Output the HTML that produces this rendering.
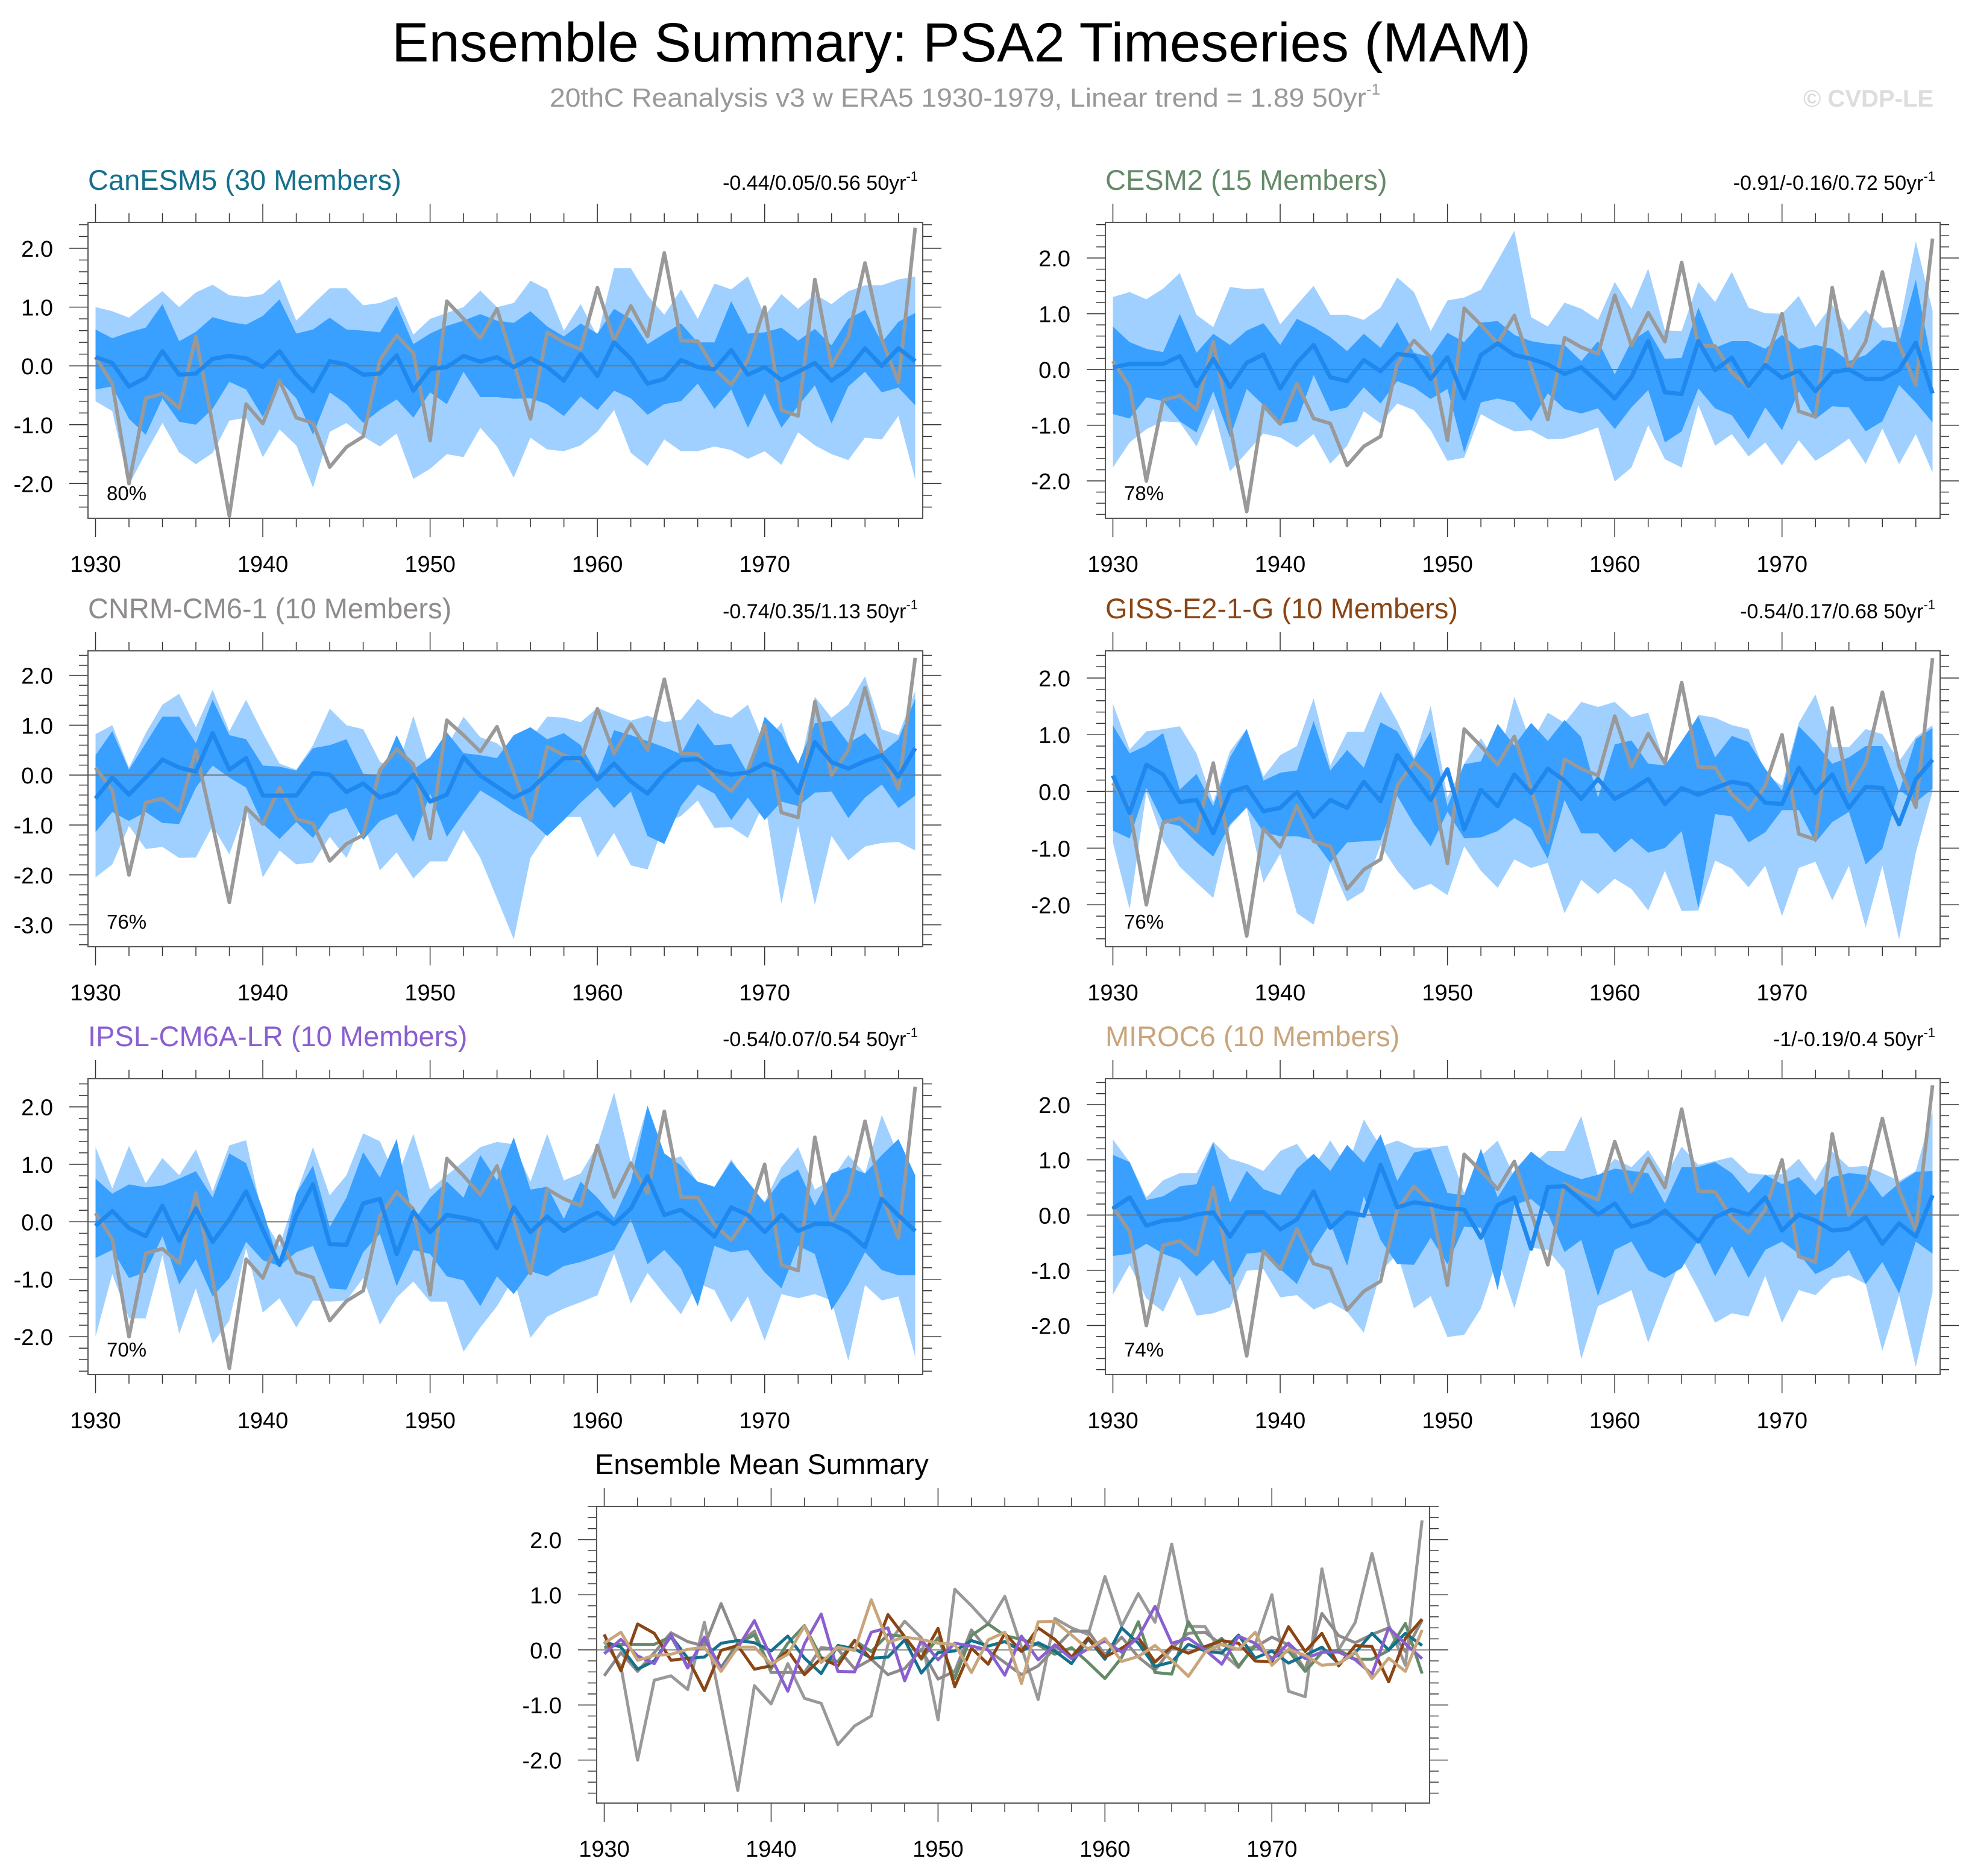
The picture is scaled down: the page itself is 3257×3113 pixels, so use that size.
<!DOCTYPE html>
<html><head><meta charset="utf-8"><title>Ensemble Summary: PSA2 Timeseries (MAM)</title>
<style>html,body{margin:0;padding:0;background:#fff}svg{display:block}text{font-family:"Liberation Sans",Arial,sans-serif}</style>
</head><body>
<svg id="chart" xmlns="http://www.w3.org/2000/svg" width="3257" height="3113" viewBox="0 0 3257 3113">
<rect x="0" y="0" width="3257" height="3113" fill="#fff"/>
<text x="650" y="102" font-size="92" textLength="1890" lengthAdjust="spacingAndGlyphs" fill="#000">Ensemble Summary: PSA2 Timeseries (MAM)</text>
<text x="912" y="177" font-size="44" fill="#999"><tspan textLength="1355" lengthAdjust="spacingAndGlyphs">20thC Reanalysis v3 w ERA5 1930-1979, Linear trend = 1.89 50yr</tspan><tspan font-size="26" dy="-20">-1</tspan></text>
<text x="3208" y="177" font-size="40" font-weight="bold" fill="#ddd" text-anchor="end">© CVDP-LE</text>
<g id="plots"></g>
</svg>
<script>
const years = [];
for (let y = 1930; y <= 1979; y++) years.push(y);
const obsValues = [0.15,-0.3,-2.0,-0.55,-0.47,-0.72,0.5,-1.0,-2.55,-0.65,-0.98,-0.25,-0.88,-0.97,-1.72,-1.38,-1.2,0.1,0.52,0.22,-1.27,1.1,0.8,0.47,0.97,0.05,-0.9,0.57,0.4,0.28,1.33,0.43,1.02,0.5,1.92,0.43,0.42,-0.05,-0.32,0.1,1.0,-0.75,-0.85,1.47,0.0,0.5,1.75,0.45,-0.28,2.35];

const canMean = [0.15,0.05,-0.35,-0.2,0.25,-0.15,-0.13,0.12,0.17,0.13,-0.02,0.25,-0.15,-0.43,0.08,0.02,-0.15,-0.13,0.18,-0.42,-0.05,-0.02,0.17,0.07,0.15,-0.02,0.13,-0.02,-0.25,0.2,-0.17,0.4,0.12,-0.3,-0.22,0.1,-0.02,-0.06,0.27,-0.15,-0.02,-0.24,-0.1,0.05,-0.25,-0.05,0.3,0,0.3,0.08];
const canOuterHi = [1.0,0.93,0.82,1.05,1.27,1.0,1.25,1.38,1.2,1.17,1.22,1.47,0.77,1.05,1.32,1.32,1.03,1.07,1.18,0.53,0.8,0.9,1.0,1.28,1.0,1.07,1.45,1.3,0.6,1.05,0.5,1.66,1.66,1.2,0.87,1.3,0.8,1.4,1.3,1.52,0.85,1.22,0.97,1.22,1.05,1.27,1.37,1.37,1.47,1.52];
const canInnerHi = [0.62,0.47,0.57,0.65,1.05,0.42,0.58,0.83,0.75,0.7,0.85,1.13,0.55,0.62,0.82,0.62,0.6,0.57,1.03,0.37,0.55,0.68,0.77,0.88,0.77,0.73,0.93,0.67,0.5,0.72,0.55,0.97,0.8,0.37,0.55,0.72,0.4,0.4,1.1,0.55,0.57,0.65,0.43,0.63,0.35,0.8,0.95,0.4,0.75,0.9];
const canInnerLo = [-0.4,-0.35,-0.9,-1.17,-0.55,-0.95,-1.0,-0.73,-0.27,-0.4,-0.87,-0.25,-0.55,-1.17,-0.45,-0.65,-0.97,-0.75,-0.57,-0.88,-0.45,-0.65,-0.1,-0.53,-0.53,-0.56,-0.55,-0.65,-0.85,-0.52,-0.75,-0.42,-0.55,-0.83,-0.65,-0.6,-0.3,-0.73,-0.4,-1.05,-0.47,-1.05,-0.68,-0.33,-0.98,-0.35,-0.1,-0.45,-0.37,-0.67];
const canOuterLo = [-0.6,-0.77,-2.02,-1.48,-0.97,-1.47,-1.67,-1.48,-0.93,-0.88,-1.55,-1.08,-1.35,-2.07,-1.12,-0.97,-1.2,-1.37,-1.15,-1.92,-1.75,-1.5,-1.55,-1.05,-1.37,-1.9,-1.22,-1.42,-1.45,-1.35,-1.12,-0.75,-1.48,-1.7,-1.25,-1.45,-1.45,-1.37,-1.43,-1.58,-1.45,-1.68,-1.13,-1.35,-1.5,-1.6,-1.22,-1.25,-0.85,-1.93];

const cesmMean = [0.04,0.1,0.1,0.1,0.24,-0.3,0.19,-0.32,0.12,0.27,-0.34,0.12,0.44,-0.14,-0.21,0.17,-0.03,0.28,0.24,-0.17,0.22,-0.52,0.26,0.47,0.26,0.19,0.09,-0.08,0.04,-0.23,-0.52,-0.14,0.51,-0.41,-0.44,0.51,-0.01,0.21,-0.3,0.08,-0.15,-0.02,-0.39,-0.05,0,-0.17,-0.17,-0.01,0.48,-0.43];
const cesmOuterHi = [1.3,1.39,1.26,1.45,1.73,0.98,0.76,1.48,1.44,1.46,0.81,1.16,1.5,0.98,0.98,0.89,1.11,1.65,1.39,0.69,1.24,1.29,1.43,1.95,2.49,0.94,0.77,1.2,1.09,0.89,1.57,1.09,1.81,0.7,0.69,1.57,1.21,1.75,1.11,1.01,1.0,1.32,0.76,1.16,0.7,1.07,0.75,0.76,2.3,1.05];
const cesmInnerHi = [0.77,0.49,0.37,0.31,1.0,0.3,0.64,0.44,0.7,0.83,0.44,0.91,0.76,0.58,0.33,0.64,0.39,0.85,0.3,0.22,0.66,0.49,0.84,0.87,0.62,0.51,0.46,0.44,0.15,0.51,-0.09,0.51,0.71,0.19,0.21,1.11,0.39,0.51,0.51,0.37,0.62,0.37,0.44,0.37,0.15,0.26,0.53,0.48,1.61,0.04];
const cesmInnerLo = [-0.8,-0.88,-0.5,-0.57,-0.93,-1.13,-0.39,-1.22,-0.35,-0.64,-0.98,-0.93,-0.1,-0.75,-0.68,-0.32,-0.61,-0.21,-0.32,-0.53,-0.35,-1.49,-0.59,-0.52,-0.59,-0.93,-0.43,-0.71,-0.79,-0.7,-1.07,-0.68,-0.37,-1.31,-1.11,-0.34,-0.7,-0.82,-1.25,-0.68,-1.09,-0.39,-0.89,-0.66,-0.68,-1.11,-0.93,-0.28,-0.59,-0.95];
const cesmOuterLo = [-1.76,-1.31,-1.07,-0.93,-0.95,-1.38,-0.7,-1.83,-1.49,-1.15,-1.22,-1.4,-1.16,-1.69,-1.37,-0.75,-0.97,-0.61,-0.73,-1.09,-1.64,-1.58,-0.8,-0.97,-1.11,-1.09,-1.25,-1.24,-1.15,-1.04,-2.01,-1.76,-1.0,-1.61,-1.76,-0.64,-1.37,-1.16,-1.56,-1.31,-1.72,-1.27,-1.64,-1.45,-1.24,-1.69,-1.06,-1.7,-1.16,-1.85];

const cnrmMean = [-0.47,-0.05,-0.39,-0.05,0.31,0.15,0.07,0.84,0.11,0.34,-0.41,-0.41,-0.41,0.04,0.01,-0.34,-0.17,-0.45,-0.34,0.01,-0.53,-0.39,0.36,-0.01,-0.23,-0.45,-0.29,0.03,0.34,0.34,-0.09,0.23,-0.13,-0.37,0.03,0.3,0.32,0.09,0.01,0.05,0.23,0.09,-0.36,0.66,0.26,0.13,0.28,0.4,-0.03,0.54];
const cnrmOuterHi = [0.82,1.0,0.15,0.84,1.41,1.63,0.96,1.71,0.88,1.51,0.84,0.23,0.11,0.6,1.33,1.0,0.92,0.27,0.07,1.19,0.11,0.56,1.17,0.76,0.64,0.36,0.72,1.17,1.15,1.06,1.35,1.21,1.09,1.19,1.06,1.11,1.53,1.25,1.15,1.41,0.6,1.05,0.02,1.57,1.15,1.41,1.98,0.92,0.8,1.69];
const cnrmInnerHi = [0.4,0.88,0.11,0.64,1.17,1.17,0.64,1.51,0.8,0.72,0.19,0.17,0.09,0.54,0.6,0.72,0.03,-0.01,0.8,0.11,0.36,0.86,0.44,0.4,0.34,0.8,0.96,0.72,0.84,0.6,0.01,0.9,0.8,0.68,0.56,0.42,1.04,0.6,0.62,0.03,1.17,0.84,0.23,1.04,1.09,0.64,0.84,0.44,0.72,1.53];
const cnrmInnerLo = [-1.14,-0.74,-0.92,-0.74,-0.96,-0.98,-0.25,0.19,-0.05,-0.25,-0.98,-1.28,-0.94,-1.26,-0.78,-0.66,-1.3,-0.92,-0.78,-1.34,-0.37,-1.24,-0.76,-0.31,-0.51,-0.74,-0.92,-1.22,-0.9,-0.55,-0.25,-0.66,-0.33,-1.22,-1.38,-0.62,-0.19,-0.37,-0.9,-0.45,-0.9,-0.53,-0.62,-0.35,-0.33,-0.86,-0.45,-0.19,-0.66,-0.41];
const cnrmOuterLo = [-2.05,-1.79,-1.02,-1.48,-1.44,-1.66,-1.65,-1.02,-1.59,-0.66,-2.05,-1.51,-1.79,-1.75,-1.24,-1.66,-0.94,-1.91,-1.55,-2.07,-1.73,-1.73,-1.1,-1.66,-2.47,-3.29,-1.66,-1.16,-0.84,-0.84,-1.65,-1.16,-1.81,-1.89,-0.96,-0.82,-0.51,-1.06,-1.04,-1.26,-0.53,-2.58,-1.02,-2.6,-1.22,-1.71,-1.43,-1.36,-1.34,-1.51];

const gissMean = [0.28,-0.38,0.47,0.3,-0.19,-0.15,-0.74,-0.01,0.08,-0.35,-0.29,-0.01,-0.45,-0.15,-0.29,0.17,-0.17,0.64,0.24,-0.15,0.39,-0.67,0.03,-0.26,0.3,-0.03,0.4,0.19,-0.13,0.22,-0.13,0.03,0.22,-0.22,0.06,-0.06,0.06,0.17,0.12,-0.2,-0.22,0.42,-0.03,0.3,-0.29,0.08,0.06,-0.58,0.21,0.56];
const gissOuterHi = [1.55,0.74,1.06,1.1,1.15,0.67,-0.19,0.71,1.1,0.26,0.64,0.8,1.64,0.46,1.05,1.05,1.76,1.24,0.6,1.51,-0.1,0.49,0.94,0.48,1.67,0.85,1.39,1.21,1.58,1.49,1.58,1.31,1.39,0.48,0.81,1.35,1.3,1.17,1.1,0.31,0.1,1.21,1.71,0.78,0.78,1.1,1.01,0.53,0.96,1.17];
const gissInnerHi = [1.17,0.67,0.81,1.03,0.03,0.31,-0.26,0.6,1.1,0.19,0.33,0.37,1.24,0.37,0.73,0.42,1.22,1.06,0.56,1.06,-0.26,0.48,0.53,1.19,0.81,1.21,0.89,1.26,0.96,-0.11,0.83,0.9,0.49,0.46,0.89,1.33,0.6,0.98,0.87,0.4,0.01,1.15,0.85,0.49,0.6,0.8,0.8,-0.01,0.92,1.12];
const gissInnerLo = [-0.69,-0.83,0.06,-0.54,-0.61,-0.9,-1.15,-0.58,-0.28,-0.72,-0.79,-0.79,-0.86,-1.26,-0.9,-0.88,-0.86,-0.08,-0.58,-0.97,-0.36,-0.83,-0.81,-0.7,-0.47,-0.65,-1.19,-0.15,-0.74,-0.74,-1.08,-0.83,-1.08,-1.0,-0.7,-2.06,-0.4,-0.44,-0.9,-0.72,-0.33,-0.33,-0.9,-0.54,-0.36,-1.29,-1.01,0.03,-0.19,0.05];
const gissOuterLo = [-0.9,-2.08,-0.01,-0.87,-1.33,-1.61,-1.88,-0.61,-0.29,-1.61,-1.1,-2.15,-2.35,-1.27,-1.94,-1.76,-0.95,-1.4,-1.74,-1.63,-1.83,-0.97,-1.4,-1.7,-1.2,-1.35,-1.26,-2.15,-1.56,-1.81,-1.54,-1.72,-2.1,-1.4,-2.11,-2.1,-1.22,-1.36,-1.69,-1.31,-2.2,-1.35,-1.24,-1.92,-1.31,-2.4,-1.31,-2.61,-1.08,0.0];

const ipslMean = [-0.07,0.19,-0.11,-0.25,0.28,-0.33,0.23,-0.35,0.04,0.53,-0.14,-0.75,0.11,0.65,-0.39,-0.4,0.32,0.4,-0.56,0.18,-0.18,0.12,0.07,0,-0.46,0.25,-0.18,0.09,-0.16,0.02,0.16,-0.04,0.23,0.79,0.12,0.21,0,-0.26,0.25,0.12,-0.18,0.12,-0.16,-0.04,-0.04,-0.18,-0.44,0.4,0.11,-0.16];
const ipslOuterHi = [1.3,0.58,1.32,0.67,1.11,0.81,1.26,0.53,1.33,1.42,0.07,-0.42,0.49,1.3,0.46,0.81,1.54,1.4,0.74,1.53,0.56,0.81,1.05,1.3,1.39,1.35,0.7,1.53,0.72,0.84,1.33,2.25,1.02,2.02,1.05,1.14,0.68,0.61,1.09,0.63,0.35,0.95,1.3,0.56,0.74,1.16,0.84,1.86,1.16,0.81];
const ipslInnerHi = [0.75,0.49,0.65,0.6,0.63,0.75,0.88,0.42,1.19,1.02,0.21,-0.77,0.49,0.98,-0.09,0.42,1.21,0.77,1.44,0.0,0.42,0.7,0.42,1.16,0.72,1.47,0.56,0.61,0.05,0.7,0.42,0.07,0.7,2.02,1.19,0.98,0.7,0.61,1.05,0.7,0.33,0.74,0.91,0.28,0.84,0.95,0.84,1.16,1.44,0.81];
const ipslInnerLo = [-0.63,-0.49,-0.98,-0.88,-0.25,-1.09,-0.65,-1.3,-0.98,-0.35,-0.67,-0.77,-0.53,-0.42,-1.16,-1.18,-0.53,-0.21,-1.12,-0.49,-0.56,-0.95,-1.02,-1.47,-0.95,-1.26,-0.86,-0.95,-0.77,-0.7,-0.6,-0.49,0.04,-0.74,-0.49,-0.81,-1.47,-0.42,-0.53,-0.49,-0.88,-1.16,-0.42,-0.56,-1.54,-1.09,-0.53,-0.84,-0.93,-0.93];
const ipslOuterLo = [-2.0,-0.91,-1.68,-1.68,-0.58,-1.95,-1.16,-2.12,-1.72,-0.46,-1.58,-1.33,-1.84,-1.37,-1.39,-1.37,-0.98,-1.79,-1.32,-1.04,-1.39,-1.39,-2.26,-1.84,-1.47,-0.98,-2.02,-1.65,-1.51,-1.4,-1.28,-0.56,-1.42,-0.89,-1.26,-1.61,-1.07,-1.19,-1.75,-1.3,-2.07,-1.26,-1.33,-1.26,-1.37,-2.42,-1.1,-1.37,-1.3,-2.35];

const mirocMean = [0.12,0.32,-0.19,-0.1,-0.08,0.01,0.05,-0.39,0.05,0.05,-0.26,-0.08,0.43,-0.23,0.05,-0.01,0.91,0.14,0.23,0.19,0.12,0.1,-0.41,0.18,0.32,-0.61,0.51,0.52,0.27,0.01,0.21,-0.21,-0.12,0.08,-0.19,-0.48,-0.04,0.1,0.01,0.32,-0.28,0.01,-0.1,-0.28,-0.25,-0.04,-0.52,-0.15,-0.39,0.36];
const mirocOuterHi = [1.37,0.96,0.32,0.63,0.76,0.76,1.33,1.02,0.93,0.8,1.16,1.29,0.87,1.35,0.87,1.73,1.24,1.35,1.22,1.22,1.26,0.4,1.07,1.35,0.69,0.89,1.16,1.16,1.79,0.69,1.02,0.87,1.18,0.69,1.24,0.91,0.98,1.05,0.76,0.73,0.74,1.02,0.62,1.15,0.87,0.89,0.76,0.62,0.8,1.9];
const mirocInnerHi = [1.09,0.96,0.27,0.34,0.52,0.56,1.31,0.23,0.8,0.47,0.36,0.84,1.11,0.8,1.27,0.95,1.46,0.62,1.13,1.2,0.4,0.36,1.2,0.32,0.8,1.15,0.91,0.76,0.65,0.73,0.84,0.8,0.76,0.21,0.87,0.87,0.96,0.76,0.4,0.73,0.56,0.69,0.36,0.69,0.76,0.73,0.32,0.58,0.78,0.8];
const mirocInnerLo = [-0.74,-0.7,-0.52,-0.7,-0.81,-1.11,-0.81,-1.27,-0.7,-0.67,-0.98,-1.25,-0.61,-0.15,-0.92,0.34,-0.45,-0.89,-0.9,-0.41,-0.89,-0.21,-0.23,-1.36,0.18,0.29,0.03,-0.67,-0.45,-1.47,-0.63,-0.48,-1.0,-1.14,-0.96,-0.45,-1.11,-0.56,-1.14,-0.63,-0.48,-0.7,-1.07,-0.92,-0.63,-1.25,-0.85,-1.42,-0.48,-0.7];
const mirocOuterLo = [-1.44,-0.9,-1.51,-1.75,-1.11,-1.82,-1.78,-1.67,-1.01,-0.98,-1.49,-1.45,-1.71,-1.58,-1.75,-2.13,-1.03,-0.7,-1.69,-1.47,-2.21,-2.17,-1.69,-0.78,-1.69,-0.59,-0.63,-1.0,-2.61,-1.65,-1.51,-1.36,-2.31,-1.51,-0.78,-1.34,-1.95,-1.78,-1.84,-1.1,-1.95,-1.36,-1.45,-1.15,-1.09,-1.25,-2.46,-1.45,-2.75,-1.4];

const panelNames = ["CanESM5 (30 Members)","CESM2 (15 Members)","CNRM-CM6-1 (10 Members)","GISS-E2-1-G (10 Members)","IPSL-CM6A-LR (10 Members)","MIROC6 (10 Members)"];
const panelTrends = ["-0.44/0.05/0.56","-0.91/-0.16/0.72","-0.74/0.35/1.13","-0.54/0.17/0.68","-0.54/0.07/0.54","-1/-0.19/0.4"];
const panelPct = ["80%","78%","76%","76%","70%","74%"];
const xTickLabels = [1930,1940,1950,1960,1970];

const NS = "http://www.w3.org/2000/svg";
const root = document.getElementById("plots");
function mk(tag, attrs, parent, txt) {
  const e = document.createElementNS(NS, tag);
  for (const k in attrs) e.setAttribute(k, attrs[k]);
  if (txt !== undefined) e.textContent = txt;
  (parent || root).appendChild(e);
  return e;
}

function drawAxes(g, box, ymin, ymax, yLabels) {
  const xs = v => box.x + 12.5 + (v - 1930) * (box.w - 25) / 49;
  const ys = v => box.y + (ymax - v) / (ymax - ymin) * box.h;
  for (let yr = 1930; yr <= 1978; yr += 2) {
    const major = yr % 10 === 0;
    const L = major ? 31 : 15;
    const t1 = mk("line", {x1: xs(yr), x2: xs(yr), y1: box.y, y2: box.y - L, stroke: "#333", "stroke-width": 1.5}, g);
    
    
    const t2 = mk("line", {x1: xs(yr), x2: xs(yr), y1: box.y + box.h, y2: box.y + box.h + L, stroke: "#333", "stroke-width": 1.5}, g);
    
    
  }
  xTickLabels.forEach(yr => {
    const t = mk("text", {x: xs(yr), y: box.y + box.h + 89, "font-size": 38, "text-anchor": "middle", fill: "#000"}, g, String(yr));
    
    
  });
  const start = Math.ceil(ymin * 5 - 1e-6), end = Math.floor(ymax * 5 + 1e-6);
  for (let k = start; k <= end; k++) {
    const v = k / 5, major = k % 5 === 0, L = major ? 31 : 15;
    const a = mk("line", {x1: box.x, x2: box.x - L, y1: ys(v), y2: ys(v), stroke: "#333", "stroke-width": 1.5}, g);
    
    
    const b = mk("line", {x1: box.x + box.w, x2: box.x + box.w + L, y1: ys(v), y2: ys(v), stroke: "#333", "stroke-width": 1.5}, g);
    
    
  }
  yLabels.forEach(v => {
    const t = mk("text", {x: box.x - 58, y: ys(v) + 14, "font-size": 38, "text-anchor": "end", fill: "#000"}, g, v.toFixed(1));
    
    
  });
  return {xs, ys};
}

function pathOf(xs, ys, arr) {
  return arr.map((v, i) => (i ? "L" : "M") + xs(years[i]).toFixed(1) + "," + ys(v).toFixed(1)).join("");
}
function bandOf(xs, ys, hi, lo) {
  let d = hi.map((v, i) => (i ? "L" : "M") + xs(years[i]).toFixed(1) + "," + ys(v).toFixed(1)).join("");
  for (let i = lo.length - 1; i >= 0; i--) d += "L" + xs(years[i]).toFixed(1) + "," + ys(lo[i]).toFixed(1);
  return d + "Z";
}

const panels = [
  {x:146, y:369, ymin:-2.59, ymax:2.44, ylab:[-2,-1,0,1,2], col:"#14708c", mean:canMean, oh:canOuterHi, ih:canInnerHi, il:canInnerLo, ol:canOuterLo},
  {x:1834, y:369, ymin:-2.67, ymax:2.64, ylab:[-2,-1,0,1,2], col:"#648a68", mean:cesmMean, oh:cesmOuterHi, ih:cesmInnerHi, il:cesmInnerLo, ol:cesmOuterLo},
  {x:146, y:1080, ymin:-3.44, ymax:2.49, ylab:[-3,-2,-1,0,1,2], col:"#8f8a8c", mean:cnrmMean, oh:cnrmOuterHi, ih:cnrmInnerHi, il:cnrmInnerLo, ol:cnrmOuterLo},
  {x:1834, y:1080, ymin:-2.74, ymax:2.48, ylab:[-2,-1,0,1,2], col:"#8b4513", mean:gissMean, oh:gissOuterHi, ih:gissInnerHi, il:gissInnerLo, ol:gissOuterLo},
  {x:146, y:1790, ymin:-2.66, ymax:2.49, ylab:[-2,-1,0,1,2], col:"#8a5fd0", mean:ipslMean, oh:ipslOuterHi, ih:ipslInnerHi, il:ipslInnerLo, ol:ipslOuterLo},
  {x:1834, y:1790, ymin:-2.89, ymax:2.47, ylab:[-2,-1,0,1,2], col:"#c9a57c", mean:mirocMean, oh:mirocOuterHi, ih:mirocInnerHi, il:mirocInnerLo, ol:mirocOuterLo}
];

panels.forEach((p, idx) => {
  const g = mk("g", {});
  
  
  const box = {x: p.x, y: p.y, w: 1385, h: 491};
  const t = mk("text", {x: box.x, y: box.y - 54, "font-size": 47, fill: p.col}, g, panelNames[idx]);
  
  
  const tr = mk("text", {x: box.x + box.w - 8, y: box.y - 54, "font-size": 34, fill: "#000", "text-anchor": "end"}, g);
  
  
  mk("tspan", {}, tr, panelTrends[idx] + " 50yr");
  mk("tspan", {"font-size": 22, dy: -15}, tr, "-1");
  const {xs, ys} = drawAxes(g, box, p.ymin, p.ymax, p.ylab);
  const b1 = mk("path", {d: bandOf(xs, ys, p.oh, p.ol), fill: "#a0d0ff"}, g);
  
  
  const b2 = mk("path", {d: bandOf(xs, ys, p.ih, p.il), fill: "#39a0ff"}, g);
  
  
  const z = mk("line", {x1: box.x, x2: box.x + box.w, y1: ys(0), y2: ys(0), stroke: "#777", "stroke-width": 2}, g);
  
  
  const ob = mk("path", {d: pathOf(xs, ys, obsValues), fill: "none", stroke: "#999", "stroke-width": 6, "stroke-linejoin": "round"}, g);
  
  
  const mn = mk("path", {d: pathOf(xs, ys, p.mean), fill: "none", stroke: "#1e88ee", "stroke-width": 7, "stroke-linejoin": "round"}, g);
  
  
  const fr = mk("rect", {x: box.x, y: box.y, width: box.w, height: box.h, fill: "none", stroke: "#555", "stroke-width": 2}, g);
  
  
  const pc = mk("text", {x: box.x + 31, y: box.y + box.h - 30, "font-size": 33, fill: "#000"}, g, panelPct[idx]);
  
  
});

(function () {
  const g = mk("g", {});
  
  
  const box = {x: 990, y: 2500, w: 1382, h: 492};
  const t = mk("text", {x: 987, y: 2446, "font-size": 47, fill: "#000"}, g, "Ensemble Mean Summary");
  
  
  const {xs, ys} = drawAxes(g, box, -2.78, 2.6, [-2,-1,0,1,2]);
  const z = mk("line", {x1: box.x, x2: box.x + box.w, y1: ys(0), y2: ys(0), stroke: "#888", "stroke-width": 2}, g);
  
  
  const ob = mk("path", {d: pathOf(xs, ys, obsValues), fill: "none", stroke: "#999", "stroke-width": 5, "stroke-linejoin": "round"}, g);
  
  
  [2, 1, 0, 3, 4, 5].forEach(i => {
    const p = panels[i];
    const l = mk("path", {d: pathOf(xs, ys, p.mean), fill: "none", stroke: p.col, "stroke-width": 5, "stroke-linejoin": "round"}, g);
    
    
  });
  const fr = mk("rect", {x: box.x, y: box.y, width: box.w, height: box.h, fill: "none", stroke: "#555", "stroke-width": 2}, g);
  
  
})();
</script>
</body></html>
